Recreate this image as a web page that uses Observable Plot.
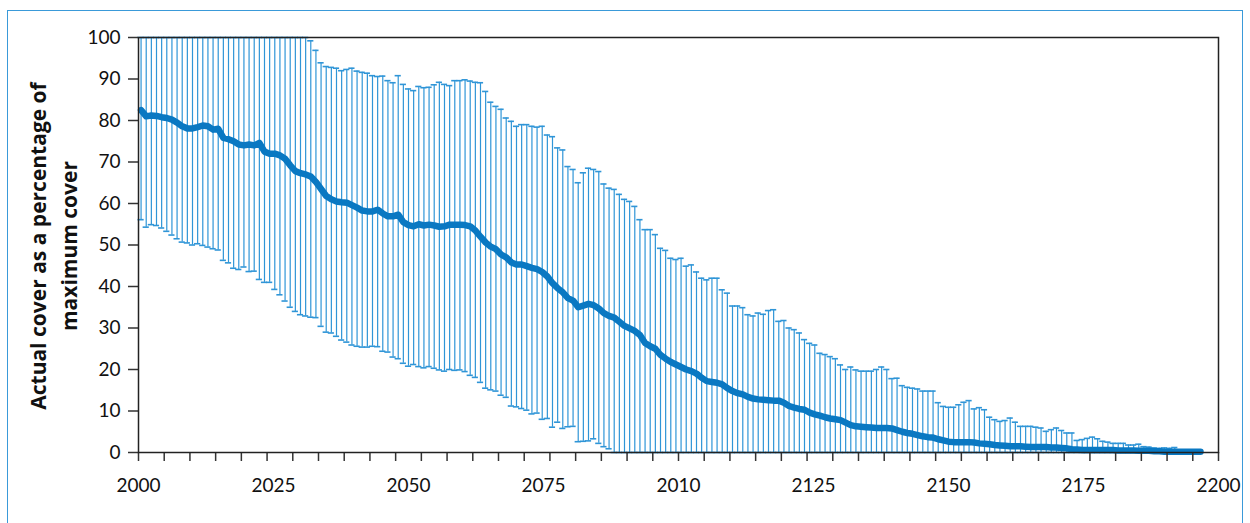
<!DOCTYPE html>
<html><head><meta charset="utf-8">
<script src="https://cdn.jsdelivr.net/npm/d3@7"></script>
<script src="https://cdn.jsdelivr.net/npm/@observablehq/plot@0.6"></script>
<style>
html,body{margin:0;padding:0;background:#fff;}
#wrap{position:relative;width:1250px;height:523px;overflow:hidden;font-family:Lato,"Open Sans",sans-serif;}
#border{position:absolute;left:7px;top:10px;width:1236px;height:540px;border:1.5px solid #3a9ad9;box-sizing:border-box;}
#chart{position:absolute;left:0;top:0;}
#ytitle{position:absolute;left:-145.6px;top:215px;width:400px;height:62px;line-height:31px;text-align:center;
  transform:rotate(-90deg);transform-origin:50% 50%;font-family:"Open Sans","Noto Sans",sans-serif;font-weight:bold;font-size:21px;color:#111;white-space:nowrap;}
</style></head>
<body>
<div id="wrap">
  <div id="border"></div>
  <div id="chart"></div>
  <div id="ytitle">Actual cover as a percentage of<br>maximum cover</div>
</div>
<script>
const startYear = 2000;
const xLabels = ["2000","2025","2050","2075","2010","2125","2150","2175","2200"];
const yTicks = [0,10,20,30,40,50,60,70,80,90,100];

const meanCover = [82.5,81.0,81.2,81.1,80.8,80.6,80.2,79.5,78.6,78.1,
 78.1,78.4,78.8,78.6,77.8,78.0,75.8,75.5,75.0,74.2,
 74.0,74.2,74.0,74.6,72.5,72.0,72.0,71.6,70.8,69.2,
 67.8,67.3,67.0,66.5,65.2,63.5,61.8,61.0,60.5,60.3,
 60.2,59.6,59.0,58.3,58.1,58.1,58.5,57.6,56.9,56.9,
 57.3,55.5,54.8,54.5,55.0,54.7,54.9,54.7,54.4,54.5,
 54.9,54.9,54.9,54.8,54.5,53.5,52.0,50.6,49.6,49.0,
 47.7,47.0,45.8,45.3,45.3,44.9,44.5,44.2,43.5,42.4,
 40.8,39.6,38.6,37.2,36.6,35.0,35.4,35.8,35.5,34.7,
 33.6,32.9,32.5,31.5,30.5,29.9,29.3,28.3,26.4,25.6,
 25.0,23.5,22.6,21.8,21.2,20.6,20.0,19.6,19.0,18.0,
 17.2,17.0,16.8,16.4,15.5,14.8,14.3,14.0,13.4,13.0,
 12.8,12.7,12.6,12.5,12.5,12.0,11.2,10.8,10.5,10.3,
 9.6,9.2,8.9,8.5,8.2,8.0,7.8,7.2,6.6,6.3,
 6.2,6.1,6.0,5.9,5.9,5.9,5.8,5.4,5.0,4.7,
 4.5,4.2,3.9,3.7,3.6,3.2,2.9,2.6,2.5,2.5,
 2.5,2.5,2.4,2.2,2.1,2.0,1.8,1.7,1.6,1.5,
 1.5,1.5,1.4,1.3,1.3,1.3,1.3,1.2,1.2,1.1,
 1.0,0.8,0.7,0.6,0.6,0.6,0.6,0.6,0.6,0.6,
 0.5,0.5,0.5,0.5,0.4,0.4,0.4,0.3,0.3,0.2,
 0.2,0.2,0.2,0.2,0.2,0.2,0.2];

const upperCover = [100,100,100,100,100,100,100,100,100,100,
 100,100,100,100,100,100,100,100,100,100,
 100,100,100,100,100,100,100,100,100,100,
 100,100,100,
 99.2,96.9,93.9,93.0,92.8,92.6,92.0,92.3,92.6,91.9,
 91.6,91.4,90.8,90.6,90.7,89.6,89.1,90.8,88.7,87.6,
 87.2,88.2,87.9,88.0,88.6,89.2,88.7,88.4,89.6,89.6,
 89.8,89.5,89.2,89.1,87.0,84.4,83.4,82.7,80.6,79.8,
 78.6,79.0,79.0,78.6,78.4,78.6,76.5,76.1,73.4,72.9,
 68.9,68.2,65.0,67.4,68.5,68.2,67.7,64.7,63.7,63.4,
 62.2,61.0,60.5,59.3,56.1,53.7,53.7,52.5,49.2,48.7,
 46.8,46.5,46.8,44.9,45.2,43.5,42.0,41.6,42.0,42.0,
 39.2,38.4,35.3,35.3,34.9,33.2,32.9,33.6,33.3,34.2,
 34.4,31.6,31.8,30.0,29.6,28.8,27.2,26.3,25.9,23.9,
 23.6,23.1,22.6,21.1,20.0,20.6,19.9,19.6,19.6,19.6,
 20.0,20.6,20.0,17.8,17.9,16.1,15.7,15.5,15.3,14.8,
 14.8,14.8,12.0,11.1,10.9,10.9,11.5,12.1,12.5,10.5,
 10.8,10.3,8.5,7.9,7.5,7.7,8.3,7.3,6.3,6.3,
 6.3,6.1,5.9,5.1,5.5,5.9,5.3,4.7,4.7,2.9,
 3.1,3.4,3.7,3.3,2.7,2.5,2.2,2.2,2.2,1.8,
 1.8,2.0,1.4,1.3,1.1,1.0,1.1,1.0,1.2,0.6,
 0.5,0.5,0.5,0.4];

const lowerCover = [56.1,54.3,54.9,54.7,54.1,53.3,52.4,51.5,50.7,50.5,
 50.0,50.3,49.9,49.5,49.1,48.8,46.3,45.7,44.4,44.1,
 44.7,43.6,43.7,41.7,41.0,41.0,39.3,38.0,36.5,35.0,
 34.0,33.2,32.9,32.6,32.5,30.4,29.0,28.8,28.0,27.1,
 26.6,25.9,25.6,25.4,25.4,25.6,25.5,24.4,24.2,23.0,
 22.6,21.5,20.8,21.2,20.7,20.4,20.7,20.3,19.9,19.6,
 20.0,19.8,19.9,19.5,18.6,18.1,16.9,15.5,15.1,14.8,
 13.8,13.3,11.2,11.0,10.6,10.2,9.3,9.5,8.0,8.2,
 6.1,7.3,5.8,6.2,6.3,2.6,2.7,2.8,3.3,2.2,
 1.4,0.9,0,0,0,0,0,0,0,0,
 0,0,0,0,0,0,0,0,0,0,
 0,0,0,0,0,0,0,0,0,0,
 0,0,0,0,0,0,0,0,0,0,
 0,0,0,0,0,0,0,0,0,0,
 0,0,0,0,0,0,0,0,0,0,
 0,0,0,0,0,0,0,0,0,0,
 0,0,0,0,0,0,0,0,0,0,
 0,0,0,0,0,0,0,0,0,0,
 0,0,0,0,0,0,0,0,0,0,
 0,0,0,0,0,0,0,0,0,0,
 0,0,0,0,0,0,0];

const data = meanCover.map((m, i) => ({year: startYear + i, mean: m, lo: lowerCover[i], hi: upperCover[i]}));

// category axis: 210 slots, tick marks every 5 slots, labels spread evenly
const slots = 210;
const x0 = startYear - 0.5;
const tickPos = d3.range(0, slots + 1, 5).map(k => x0 + k);
const labelStep = slots / (xLabels.length - 1);
const labelPos = xLabels.map((_, k) => x0 + k * labelStep);

const barColor = "#2f95d7";
const capHalf = 0.6;

const chart = Plot.plot({
  width: 1250, height: 523,
  marginLeft: 138, marginRight: 32, marginTop: 37, marginBottom: 71,
  x: {domain: [x0, x0 + slots]},
  y: {domain: [0, 100]},
  style: {fontFamily: "Lato, 'Open Sans', sans-serif", fontSize: "19px", color: "#111", background: "transparent", overflow: "visible"},
  marks: [
    Plot.ruleX(data, {x: "year", y1: "lo", y2: "hi", stroke: barColor, strokeWidth: 1.2}),
    Plot.ruleY(data, {y: "hi", x1: d => d.year - capHalf, x2: d => d.year + capHalf, stroke: barColor, strokeWidth: 1.6}),
    Plot.ruleY(data, {y: "lo", x1: d => d.year - capHalf, x2: d => d.year + capHalf, stroke: barColor, strokeWidth: 1.6}),
    Plot.line(data, {x: "year", y: "mean", stroke: "#0a78c2", strokeWidth: 6.5, strokeLinejoin: "round", strokeLinecap: "round"}),
    Plot.axisY({ticks: yTicks, tickSize: 10, tickPadding: 8, stroke: "#333", strokeWidth: 1.5, label: null, fill: "#111"}),
    Plot.axisX({ticks: tickPos, tickSize: 9, tickFormat: () => "", stroke: "#333", strokeWidth: 1.5, label: null}),
    Plot.axisX({ticks: labelPos, tickSize: 0, tickPadding: 26, tickFormat: d => xLabels[Math.round((d - x0) / labelStep)], label: null, fill: "#111"}),
    Plot.frame({stroke: "#222", strokeWidth: 1.5})
  ]
});
document.getElementById("chart").appendChild(chart);
</script>
</body></html>
